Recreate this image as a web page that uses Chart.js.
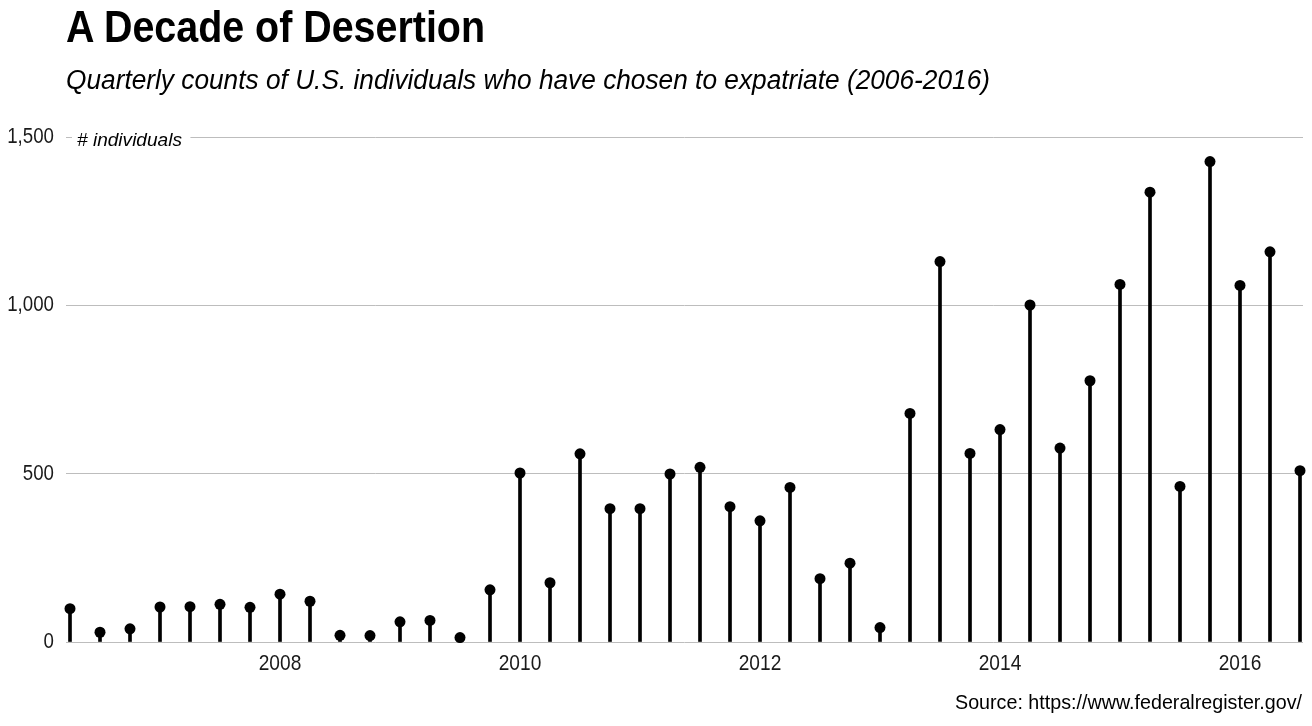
<!DOCTYPE html>
<html>
<head>
<meta charset="utf-8">
<script src="https://cdn.jsdelivr.net/npm/chart.js@4.4.1/dist/chart.umd.min.js"></script>
<style>
  html, body { margin: 0; padding: 0; background: #fff; }
  body { width: 1312px; height: 726px; position: relative; overflow: hidden;
         font-family: "Liberation Sans", Arial, sans-serif; color: #000; }
  #wrap { position: absolute; left: 0; top: 0; width: 1312px; height: 726px; }
  .txt { position: absolute; white-space: nowrap; transform-origin: left top; }
  .title { left: 66px; top: 3.6px; font-size: 45px; line-height: 45px; font-weight: bold; }
  .subtitle { left: 66px; top: 67px; font-size: 27px; line-height: 27px; font-style: italic; }
  .ylab { left: 72px; top: 130px; padding: 0 8px 0 5px; background: #fff;
          font-size: 19px; line-height: 19px; font-style: italic; }
  .source { top: 691px; font-size: 21px; line-height: 21px; }
</style>
</head>
<body>
<div id="wrap"><canvas id="chart" width="1312" height="726"></canvas></div>
<div class="txt title" id="title">A Decade of Desertion</div>
<div class="txt subtitle" id="subtitle">Quarterly counts of U.S. individuals who have chosen to expatriate (2006-2016)</div>
<div class="txt ylab" id="ylab"># individuals</div>
<div class="txt source" id="source">Source: https://www.federalregister.gov/</div>
<script>
// Quarterly expatriation counts (quarter as decimal year)
const quarters = [
    2006.25, 2006.5, 2006.75, 2007.0, 2007.25, 2007.5, 2007.75, 2008.0,
    2008.25, 2008.5, 2008.75, 2009.0, 2009.25, 2009.5, 2009.75, 2010.0,
    2010.25, 2010.5, 2010.75, 2011.0, 2011.25, 2011.5, 2011.75, 2012.0,
    2012.25, 2012.5, 2012.75, 2013.0, 2013.25, 2013.5, 2013.75, 2014.0,
    2014.25, 2014.5, 2014.75, 2015.0, 2015.25, 2015.5, 2015.75, 2016.0,
    2016.25, 2016.5
];
const counts = [
    99, 29, 39, 104, 105, 112, 103, 142,
    121, 20, 19, 60, 64, 13, 155, 502,
    176, 559, 396, 396, 499, 519, 402, 360,
    459, 188, 234, 43, 679, 1130, 560, 631,
    1001, 576, 776, 1062, 1336, 462, 1427, 1059,
    1159, 509
];
const xTicks = [2008, 2010, 2012, 2014, 2016];
const yTicks = [0, 500, 1000, 1500];

// squeeze the html texts to the narrow face of the original
function narrow(id, width, anchorRight) {
    const el = document.getElementById(id);
    const w = el.getBoundingClientRect().width;
    el.style.transform = 'scaleX(' + (width / w) + ')';
    if (anchorRight) el.style.left = (anchorRight - width) + 'px';
}
narrow('title', 419);
narrow('subtitle', 924);
narrow('ylab', 118);
narrow('source', 347, 1302);

const points = quarters.map((q, i) => ({ x: q, y: counts[i] }));

// tick labels drawn condensed (no narrow font installed)
const narrowTicks = {
    id: 'narrowTicks',
    afterDraw(chart) {
        const { ctx, scales: { x, y } } = chart;
        ctx.save();
        ctx.font = '22px "Liberation Sans", Arial, sans-serif';
        ctx.fillStyle = '#1a1a1a';
        ctx.textBaseline = 'middle';
        y.ticks.forEach(t => {
            ctx.save();
            ctx.translate(54, y.getPixelForValue(t.value));
            ctx.scale(0.85, 1);
            ctx.textAlign = 'right';
            ctx.fillText(t.value.toLocaleString('en-US'), 0, 0);
            ctx.restore();
        });
        x.ticks.forEach(t => {
            ctx.save();
            ctx.translate(x.getPixelForValue(t.value), 664);
            ctx.scale(0.87, 1);
            ctx.textAlign = 'center';
            ctx.fillText(String(t.value), 0, 0);
            ctx.restore();
        });
        ctx.restore();
    }
};

const ctx = document.getElementById('chart').getContext('2d');
new Chart(ctx, {
    data: {
        datasets: [
            {
                type: 'scatter',
                data: points,
                pointRadius: 5.5,
                pointHoverRadius: 5.5,
                pointBackgroundColor: '#000',
                pointBorderWidth: 0,
                clip: false
            },
            {
                type: 'bar',
                data: points,
                backgroundColor: '#000',
                barThickness: 3,
                clip: false
            }
        ]
    },
    options: {
        responsive: false,
        animation: false,
        layout: { padding: { top: 137, right: 9, left: 0, bottom: 0 } },
        plugins: {
            legend: { display: false },
            tooltip: { enabled: false }
        },
        scales: {
            x: {
                type: 'linear',
                offset: false,
                min: 2006.25 - 4 / 120,
                max: 2016.5 + 3 / 120,
                grid: { display: false },
                border: { display: false },
                afterBuildTicks: scale => { scale.ticks = xTicks.map(v => ({ value: v })); },
                afterFit: scale => { scale.height = 84; },
                ticks: { display: false }
            },
            y: {
                type: 'linear',
                min: 0,
                max: 1500,
                grid: { color: '#bdbdbd', lineWidth: 1, drawTicks: false },
                border: { display: false },
                afterBuildTicks: scale => { scale.ticks = yTicks.map(v => ({ value: v })); },
                afterFit: scale => { scale.width = 66; },
                ticks: { display: false }
            }
        }
    },
    plugins: [narrowTicks]
});
</script>
</body>
</html>
